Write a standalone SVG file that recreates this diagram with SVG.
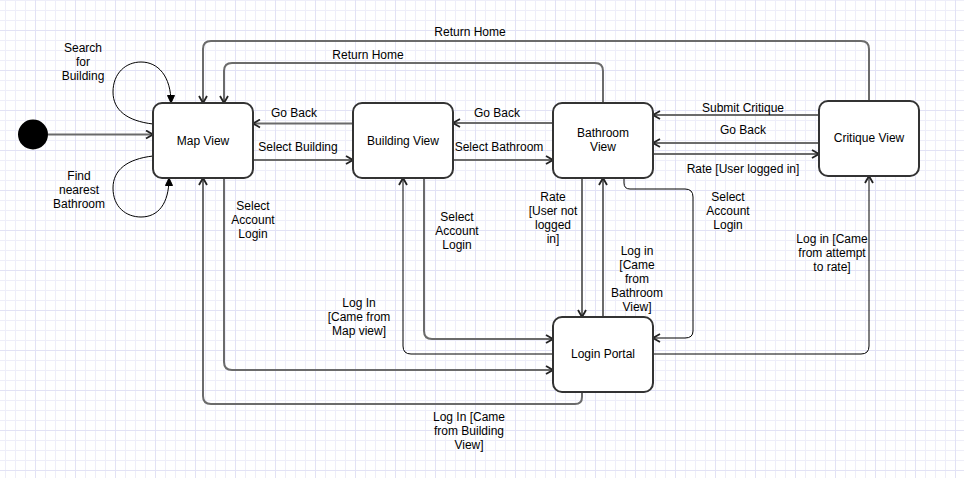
<svg xmlns="http://www.w3.org/2000/svg" width="964" height="478" viewBox="0 0 964 478">
<defs>
<pattern id="gminor" patternUnits="userSpaceOnUse" x="5" y="0" width="10" height="10">
<path d="M0.5,0 V10 M0,0.5 H10" stroke="#eeeef9" stroke-width="1" fill="none"/>
</pattern>
<pattern id="gmajor" patternUnits="userSpaceOnUse" x="35" y="30" width="40" height="40">
<path d="M0.5,0 V40 M0,0.5 H40" stroke="#e2e2f5" stroke-width="1" fill="none"/>
</pattern>
<marker id="open" viewBox="0 0 10 10" refX="9" refY="5" markerWidth="10" markerHeight="10" markerUnits="userSpaceOnUse" orient="auto">
<path d="M2,1 L9,5 L2,9" fill="none" stroke="#222" stroke-width="1.8"/>
</marker>
<marker id="block" viewBox="0 0 10 10" refX="9" refY="5" markerWidth="10" markerHeight="10" markerUnits="userSpaceOnUse" orient="auto">
<path d="M1.5,1.5 L9,5 L1.5,8.5 Z" fill="#000" stroke="#000" stroke-width="1"/>
</marker>
</defs>
<style>
.node rect{fill:#fff;stroke:#333;stroke-width:2}
text{font-family:"Liberation Sans",Arial,sans-serif;font-size:12px;fill:#000;text-anchor:middle}
.e{fill:none;stroke:#6b6b6b;stroke-width:2;marker-end:url(#open)}
.t{fill:none;stroke:#000;stroke-width:1;marker-end:url(#open)}
.loop{fill:none;stroke:#000;stroke-width:1;marker-end:url(#block)}
</style>
<rect width="964" height="478" fill="#fff"/>
<rect width="964" height="478" fill="url(#gminor)"/>
<rect width="964" height="478" fill="url(#gmajor)"/>

<g id="connectors">
<path class="e" d="M48,134.5 L153,134.5"/>
<path class="loop" d="M153,124 C127,121 113,110 113,92 C113,73 126,62 141,62 C158,62 171,76 171,103"/>
<path class="loop" d="M153,156 C127,159 113,170 113,188 C113,207 126,217 141,217 C158,217 169,204 169,178"/>
<path class="e" d="M869,101 L869,49 Q869,41 861,41 L211,41 Q203,41 203,49 L203,103"/>
<path class="e" d="M603,103 L603,71 Q603,63 595,63 L232,63 Q224,63 224,71 L224,103"/>
<path class="e" d="M353,123.5 L253,123.5"/>
<path class="e" d="M253,160 L353,160"/>
<path class="e" d="M553,123 L453,123"/>
<path class="e" d="M453,160 L553,160"/>
<path class="e" d="M819,115 L653,115"/>
<path class="e" d="M819,143 L653,143"/>
<path class="e" d="M653,154 L819,154"/>
<path class="e" d="M224,178 L224,362 Q224,370 232,370 L553,370"/>
<path class="e" d="M582,392 L582,397 Q582,404 575,404 L211,404 Q203,404 203,396 L203,178"/>
<path class="e" d="M424,178 L424,331 Q424,339 432,339 L553,339"/>
<path class="t" d="M553,354 L411,354 Q403,354 403,346 L403,178"/>
<path class="e" d="M582,178 L582,317"/>
<path class="e" d="M603,317 L603,178"/>
<path class="t" d="M624,178 L624,183 Q624,189 630,189 L685,189 Q693,189 693,197 L693,331 Q693,338 685,338 L653,338"/>
<path class="t" d="M653,354 L861,354 Q869,354 869,346 L869,176"/>
</g>

<g id="labels">
<text x="83" y="51.5">Search</text>
<text x="83" y="65.5">for</text>
<text x="83" y="79.5">Building</text>
<text x="79" y="180">Find</text>
<text x="79" y="194">nearest</text>
<text x="79" y="208">Bathroom</text>
<text x="470" y="36">Return Home</text>
<text x="368" y="59">Return Home</text>
<text x="294" y="117">Go Back</text>
<text x="298" y="151">Select Building</text>
<text x="497" y="117">Go Back</text>
<text x="499" y="151">Select Bathroom</text>
<text x="743" y="112">Submit Critique</text>
<text x="743" y="133.5">Go Back</text>
<text x="743" y="172.5">Rate [User logged in]</text>
<text x="253" y="210">Select</text>
<text x="253" y="224">Account</text>
<text x="253" y="238">Login</text>
<text x="457" y="221">Select</text>
<text x="457" y="235">Account</text>
<text x="457" y="249">Login</text>
<text x="553" y="201">Rate</text>
<text x="553" y="215">[User not</text>
<text x="553" y="229">logged</text>
<text x="553" y="243">in]</text>
<text x="637" y="255">Log in</text>
<text x="637" y="269">[Came</text>
<text x="637" y="283">from</text>
<text x="637" y="297">Bathroom</text>
<text x="637" y="311">View]</text>
<text x="728" y="201">Select</text>
<text x="728" y="215">Account</text>
<text x="728" y="229">Login</text>
<text x="832" y="242.5">Log in [Came</text>
<text x="832" y="256.5">from attempt</text>
<text x="832" y="270.5">to rate]</text>
<text x="359" y="307">Log In</text>
<text x="359" y="321">[Came from</text>
<text x="359" y="335">Map view]</text>
<text x="469" y="421">Log In [Came</text>
<text x="469" y="435">from Building</text>
<text x="469" y="449">View]</text>
</g>

<g id="start"><circle cx="33" cy="134.5" r="15" fill="#000"/></g>
<g id="map-view" class="node"><rect x="153" y="103" width="100" height="75" rx="9"/><text x="203" y="144.5">Map View</text></g>
<g id="building-view" class="node"><rect x="353" y="103" width="100" height="75" rx="9"/><text x="403" y="144.5">Building View</text></g>
<g id="bathroom-view" class="node"><rect x="553" y="103" width="100" height="75" rx="9"/><text x="603" y="137">Bathroom</text><text x="603" y="151">View</text></g>
<g id="critique-view" class="node"><rect x="819" y="101" width="100" height="75" rx="9"/><text x="869" y="142">Critique View</text></g>
<g id="login-portal" class="node"><rect x="553" y="317" width="100" height="75" rx="9"/><text x="603" y="357.5">Login Portal</text></g>
</svg>
